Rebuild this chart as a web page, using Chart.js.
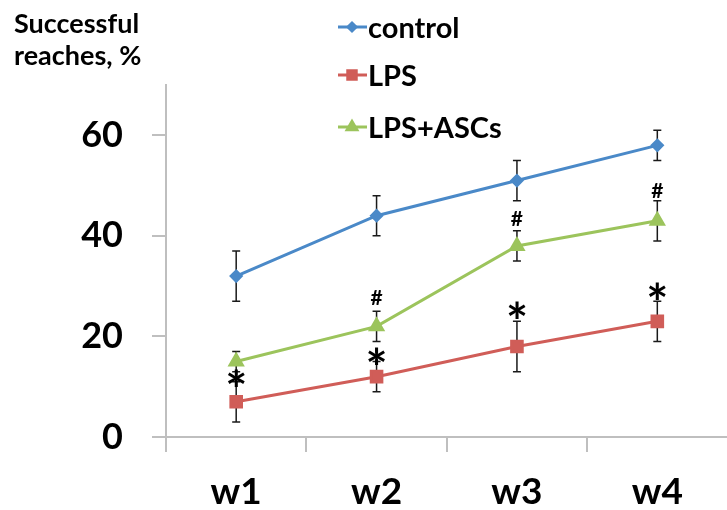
<!DOCTYPE html>
<html>
<head>
<meta charset="utf-8">
<script src="https://cdn.jsdelivr.net/npm/chart.js@4"></script>
<style>
  html, body { margin: 0; padding: 0; background: #fff; }
  #wrap { width: 727px; height: 510px; overflow: hidden; }
</style>
</head>
<body>
<div id="wrap"><canvas id="reaches" width="738" height="510"></canvas></div>
<script>
const weeks = ['w1', 'w2', 'w3', 'w4'];
const yTicks = [0, 20, 40, 60];

const controlMean = [32, 44, 51, 58];
const controlErr = [5, 4, 4, 3];
const lpsMean = [7, 12, 18, 23];
const lpsErr = [4, 3, 5, 4];
const ascMean = [15, 22, 38, 43];
const ascErr = [2, 3, 3, 4];

// significance marks and the value they sit at
const starMarks = ['*', '*', '*', '*'];
const starAt = [11.8, 16.2, 25.3, 29];
const hashMarks = ['', '#', '#', '#'];
const hashAt = [null, 27.8, 43.4, 49.1];

const FONT = 'Lato, "DejaVu Sans", sans-serif';
const errors = [controlErr, lpsErr, ascErr];

const errorBars = {
    id: 'errorBars',
    beforeDatasetsDraw(chart) {
        const ctx = chart.ctx;
        const y = chart.scales.y;
        ctx.save();
        ctx.strokeStyle = '#1a1a1a';
        ctx.lineWidth = 1.5;
        chart.data.datasets.forEach((ds, i) => {
            const meta = chart.getDatasetMeta(i);
            meta.data.forEach((pt, j) => {
                const top = y.getPixelForValue(ds.data[j] + errors[i][j]);
                const bot = y.getPixelForValue(ds.data[j] - errors[i][j]);
                ctx.beginPath();
                ctx.moveTo(pt.x, top); ctx.lineTo(pt.x, bot);
                ctx.moveTo(pt.x - 4, top); ctx.lineTo(pt.x + 4, top);
                ctx.moveTo(pt.x - 4, bot); ctx.lineTo(pt.x + 4, bot);
                ctx.stroke();
            });
        });
        ctx.restore();
    }
};

function drawMark(ctx, s, x, cy) {
    const m = ctx.measureText(s);
    const off = (m.actualBoundingBoxAscent - m.actualBoundingBoxDescent) / 2;
    ctx.fillText(s, x, cy + off);
}

const extras = {
    id: 'extras',
    afterDraw(chart) {
        const ctx = chart.ctx;
        const x = chart.scales.x;
        const y = chart.scales.y;
        ctx.save();
        ctx.fillStyle = '#000';
        ctx.textAlign = 'center';
        ctx.textBaseline = 'alphabetic';

        ctx.font = 'bold 52px ' + FONT;
        starMarks.forEach((s, i) => {
            if (s) drawMark(ctx, s, x.getPixelForValue(i), y.getPixelForValue(starAt[i]));
        });
        ctx.font = 'bold 21px ' + FONT;
        hashMarks.forEach((s, i) => {
            if (s) drawMark(ctx, s, x.getPixelForValue(i), y.getPixelForValue(hashAt[i]));
        });

        // axis title
        ctx.textAlign = 'left';
        ctx.font = 'bold 27px ' + FONT;
        ctx.fillText('Successful', 14, 33);
        ctx.fillText('reaches, %', 14, 65);

        // legend
        ctx.font = 'bold 29px ' + FONT;
        const rows = [27, 75, 127];
        chart.data.datasets.forEach((ds, i) => {
            const ly = rows[i];
            ctx.strokeStyle = ds.borderColor;
            ctx.lineWidth = 3;
            ctx.beginPath();
            ctx.moveTo(338, ly); ctx.lineTo(367, ly);
            ctx.stroke();
            Chart.helpers.drawPoint(ctx, {
                pointStyle: ds.pointStyle, radius: ds.pointRadius * 0.8,
                borderWidth: 1, rotation: 0
            }, 352, ly);
            ctx.fillStyle = ds.borderColor;
            ctx.fill();
            ctx.fillStyle = '#000';
            ctx.fillText(ds.label, 368, ly + 11);
        });
        ctx.restore();
    }
};

const data = {
    labels: weeks,
    datasets: [{
        label: 'control',
        data: controlMean,
        borderColor: '#4A89C8',
        backgroundColor: '#4A89C8',
        pointStyle: 'rectRot',
        pointRadius: 5,
        borderWidth: 3
    }, {
        label: 'LPS',
        data: lpsMean,
        borderColor: '#D05D58',
        backgroundColor: '#D05D58',
        pointStyle: 'rect',
        pointRadius: 7.5,
        borderWidth: 3
    }, {
        label: 'LPS+ASCs',
        data: ascMean,
        borderColor: '#9CC45C',
        backgroundColor: '#9CC45C',
        pointStyle: 'triangle',
        pointRadius: 7,
        borderWidth: 3
    }]
};

new Chart(document.getElementById('reaches').getContext('2d'), {
    type: 'line',
    data: data,
    plugins: [errorBars, extras],
    options: {
        responsive: false,
        animation: false,
        layout: { padding: { top: 85, right: 1, left: 0, bottom: 0 } },
        plugins: {
            legend: { display: false },
            tooltip: { enabled: false }
        },
        elements: { line: { tension: 0 }, point: { borderWidth: 1 } },
        scales: {
            x: {
                offset: true,
                afterFit: (s) => { s.height = 73; },
                border: { color: '#bfbfbf', width: 2 },
                grid: { offset: true, drawOnChartArea: false, tickLength: 15, color: '#bfbfbf', lineWidth: 2 },
                ticks: { color: '#000', padding: 18, font: { family: FONT, size: 37, weight: 'bold' } }
            },
            y: {
                min: 0,
                max: 70,
                afterFit: (s) => { s.width = 166; },
                afterBuildTicks: (s) => { s.ticks = yTicks.map(v => ({ value: v })); },
                border: { color: '#bfbfbf', width: 2 },
                grid: { drawOnChartArea: false, tickLength: 14, color: '#bfbfbf', lineWidth: 2 },
                ticks: { color: '#000', padding: 29, font: { family: FONT, size: 36, weight: 'bold' } }
            }
        }
    }
});
</script>
</body>
</html>
